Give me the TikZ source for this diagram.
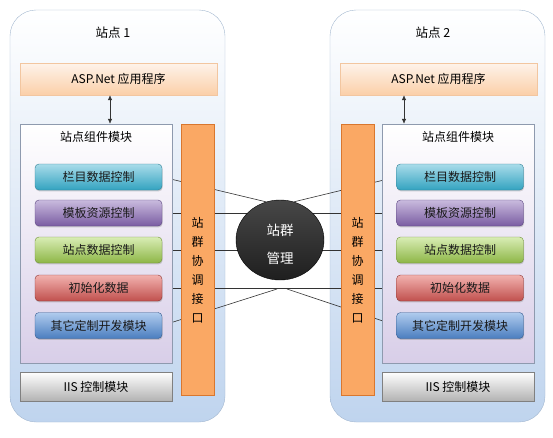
\documentclass[tikz,border=0pt]{standalone}
\usepackage{fontspec}
\setmainfont{Noto Sans CJK SC}
\usetikzlibrary{arrows.meta,shadows,shapes.geometric}
\definecolor{siteblue}{HTML}{BFD4EE}
\definecolor{sitedraw}{HTML}{A3B7CF}
\definecolor{asptop}{HTML}{FEF3EA}
\definecolor{aspbot}{HTML}{FBCFA8}
\definecolor{aspdraw}{HTML}{F2C6A0}
\definecolor{modbot}{HTML}{D8CEE8}
\definecolor{moddraw}{HTML}{8E9AAE}
\definecolor{barfill}{HTML}{FAA864}
\definecolor{bardraw}{HTML}{D9772E}
\definecolor{tealtop}{HTML}{A9DCEA}\definecolor{tealbot}{HTML}{33A3C0}\definecolor{tealdraw}{HTML}{2F7F95}
\definecolor{purptop}{HTML}{C9BBDE}\definecolor{purpbot}{HTML}{7A5CA2}\definecolor{purpdraw}{HTML}{5B4580}
\definecolor{greentop}{HTML}{D9EDB5}\definecolor{greenbot}{HTML}{8DB646}\definecolor{greendraw}{HTML}{6E8F36}
\definecolor{redtop}{HTML}{F2B2AF}\definecolor{redbot}{HTML}{C0504D}\definecolor{reddraw}{HTML}{8E3432}
\definecolor{bluetop}{HTML}{B0CBEE}\definecolor{bluebot}{HTML}{4A7DBF}\definecolor{bluedraw}{HTML}{335A8E}
\pgfdeclarelayer{panels}
\pgfdeclarelayer{links}
\pgfsetlayers{panels,links,main}

\begin{document}
\begin{tikzpicture}[x=1pt, y=-1pt, font=\fontsize{12}{14}\selectfont,
    site/.style={draw=sitedraw, rounded corners=26pt, top color=white, bottom color=siteblue,
      minimum width=215pt, minimum height=412pt},
    aspbox/.style={draw=aspdraw, top color=asptop, bottom color=aspbot,
      minimum width=197pt, minimum height=32pt},
    modpanel/.style={draw=moddraw, top color=white, bottom color=modbot,
      minimum width=152pt, minimum height=239pt},
    iisbox/.style={draw=black!50, top color=white, bottom color=black!30,
      minimum width=152pt, minimum height=29pt},
    ifbar/.style={draw=bardraw, fill=barfill, minimum width=33pt, minimum height=271pt},
    modbox/.style={draw=#1draw, top color=#1top, bottom color=#1bot, rounded corners=4pt,
      minimum width=127pt, minimum height=26pt, text=black!90,
      drop shadow={shadow xshift=0.6pt, shadow yshift=-1.4pt, opacity=.35}},
    link/.style={draw=black!80, line width=0.6pt},
    tip/.style={-{Latex[length=5pt,width=4.5pt]}},
    dual/.style={{Latex[length=5pt,width=4.5pt]}-{Latex[length=5pt,width=4.5pt]}}]
  \useasboundingbox (0,0) rectangle (553,437);

  \begin{pgfonlayer}{panels}
    \node [site] (site1) at (117.5,216) {};
    \node [site] (site2) at (437.5,216) {};
  \end{pgfonlayer}

  \node (site1t) at (113,33) {\fontsize{12.5}{14}\selectfont 站点 1};
  \node (site2t) at (433,33) {\fontsize{12.5}{14}\selectfont 站点 2};

  \node [aspbox] (asp1) at (118.5,79) {ASP.Net 应用程序};
  \node [aspbox] (asp2) at (438.5,79) {ASP.Net 应用程序};

  \node [modpanel] (mod1) at (96,243.5) {};
  \node [modpanel] (mod2) at (458,243.5) {};
  \node (mod1t) at (96,137) {站点组件模块};
  \node (mod2t) at (458,137) {站点组件模块};

  \draw [link, dual] ([xshift=-8.5pt]asp1.south) -- ([xshift=14pt]mod1.north);
  \draw [link, dual] ([xshift=-34.5pt]asp2.south) -- ([xshift=-54pt]mod2.north);

  \node [iisbox] (iis1) at (96,386.5) {IIS 控制模块};
  \node [iisbox] (iis2) at (458,386.5) {IIS 控制模块};

  \node [modbox=teal]  (s1b1) at (98.5,177)   {栏目数据控制};
  \node [modbox=purp]  (s1b2) at (98.5,213)   {模板资源控制};
  \node [modbox=green] (s1b3) at (98.5,250)   {站点数据控制};
  \node [modbox=red]   (s1b4) at (98.5,288)   {初始化数据};
  \node [modbox=blue]  (s1b5) at (98.5,325.5) {其它定制开发模块};

  \node [modbox=teal]  (s2b1) at (460,177)   {栏目数据控制};
  \node [modbox=purp]  (s2b2) at (460,213)   {模板资源控制};
  \node [modbox=green] (s2b3) at (460,250)   {站点数据控制};
  \node [modbox=red]   (s2b4) at (460,288)   {初始化数据};
  \node [modbox=blue]  (s2b5) at (460,325.5) {其它定制开发模块};

  \node [ifbar] (bar1) at (197.5,259.5) {};
  \node [ifbar] (bar2) at (357.5,259.5) {};
  \node [align=center, font=\fontsize{12}{19}\selectfont] (bar1t) at (197.5,270.5) {站\\群\\协\\调\\接\\口};
  \node [align=center, font=\fontsize{12}{19}\selectfont] (bar2t) at (357.5,270.5) {站\\群\\协\\调\\接\\口};

  \node [ellipse, draw=black, top color=black!72, middle color=black, bottom color=black!88,
    minimum width=88pt, minimum height=80pt, inner sep=0pt] (mgr) at (280,240) {};
  \node [align=center, text=white, font=\fontsize{13.5}{28}\selectfont] (mgrt) at (280,244) {站群\\管理};

  \coordinate (lowl) at (277,289);
  \coordinate (lowr) at (287,289);

  \begin{pgfonlayer}{links}
    \draw [link, dual] (s1b2.east) -- (s2b2.west);
    \draw [link, dual] (s1b3.east) -- (s2b3.west);
    \draw [link, dual] (s1b4.east) -- (s2b4.west);
    \draw [link, tip] (mgr.110) -- (s1b1.east);
    \draw [link, tip] (mgr.70) -- (s2b1.west);
    \draw [link, tip] (lowl) -- (s1b5.east);
    \draw [link, tip] (lowr) -- (s2b5.west);
  \end{pgfonlayer}
\end{tikzpicture}
\end{document}
